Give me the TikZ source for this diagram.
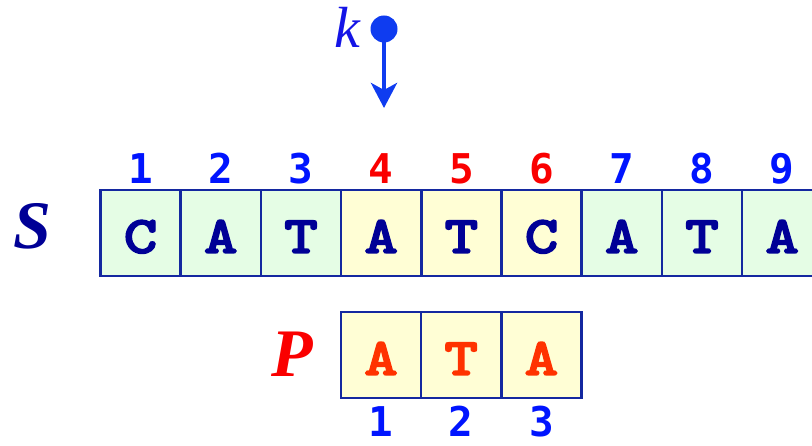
\documentclass[tikz,border=0pt]{standalone}
\usepackage{fontspec}
\setmainfont{Liberation Serif}
\newfontfamily\digf{DejaVu Sans Mono}
\newfontfamily\courf{lmmonolt10-bold.otf}[FakeBold=2.5,FakeStretch=1.22]
\usetikzlibrary{arrows.meta}
\definecolor{navy}{RGB}{0,0,150}
\definecolor{cellborder}{RGB}{20,40,160}
\definecolor{sgreen}{RGB}{229,253,229}
\definecolor{pyellow}{RGB}{255,254,213}
\definecolor{numblue}{RGB}{0,20,255}
\definecolor{numred}{RGB}{250,0,0}
\definecolor{pletter}{RGB}{255,50,0}
\definecolor{arrowblue}{RGB}{15,60,240}
\definecolor{kblue}{RGB}{20,20,230}
\tikzset{
  cellbox/.style={draw=cellborder, line width=2.6pt, minimum width=80.2pt, minimum height=86pt, inner sep=0pt, outer sep=0pt},
  gcell/.style={cellbox, fill=sgreen},
  ycell/.style={cellbox, fill=pyellow},
  lett/.style={font=\courf\fontsize{53}{60}\selectfont, inner sep=0pt, anchor=base},
  idx/.style={font=\digf\bfseries\fontsize{41}{46}\selectfont, inner sep=0pt, anchor=base},
  bigname/.style={font=\bfseries\itshape\fontsize{68}{72}\selectfont, inner sep=0pt}
}
\begin{document}
\begin{tikzpicture}[x=1pt,y=-1pt]
\useasboundingbox (0,0) rectangle (812,446);
% S cells
\foreach \i/\st in {1/gcell,2/gcell,3/gcell,4/ycell,5/ycell,6/ycell,7/gcell,8/gcell,9/gcell}{
  \node[\st, anchor=north west] (s\i) at ({100.5+80.2*(\i-1)},190) {};
}
% P cells
\foreach \i in {1,2,3}{
  \node[ycell, anchor=north west] (p\i) at ({340.9+80.2*(\i-1)},312) {};
}
% S letters
\foreach \i/\c in {1/C,2/A,3/T,4/A,5/T,6/C,7/A,8/T,9/A}{
  \node[lett, text=navy] (sl\i) at ([yshift=-20pt]s\i.center) {\c};
}
% P letters
\foreach \i/\c in {1/A,2/T,3/A}{
  \node[lett, text=pletter] (pl\i) at ([yshift=-20pt]p\i.center) {\c};
}
% S indices
\foreach \i/\col in {1/numblue,2/numblue,3/numblue,4/numred,5/numred,6/numred,7/numblue,8/numblue,9/numblue}{
  \node[idx, text=\col] (si\i) at ([yshift=6pt]s\i.north) {\i};
}
% P indices
\foreach \i in {1,2,3}{
  \node[idx, text=numblue] (pi\i) at ([yshift=-39pt]p\i.south) {\i};
}
% names
\node[bigname, text=navy] (S) at (32,226) {S};
\node[bigname, text=numred] (P) at (292,354) {P};
% k pointer
\node[font=\itshape\fontsize{58}{62}\selectfont, text=kblue, inner sep=0pt] (k) at (347,27) {k};
\node[circle, fill=arrowblue, minimum size=27pt, inner sep=0pt] (dot) at (384,29) {};
\coordinate (tip) at (384,108);
\draw[arrowblue, line width=4.5pt, -{Stealth[length=25pt,width=26pt,inset=7pt]}] (dot.center) -- (tip);
\end{tikzpicture}
\end{document}
